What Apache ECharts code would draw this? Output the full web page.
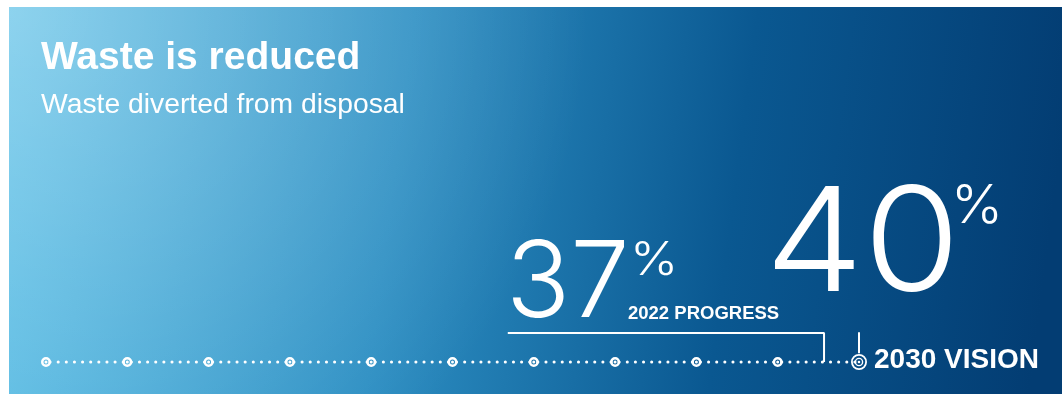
<!DOCTYPE html>
<html>
<head>
<meta charset="utf-8">
<script src="https://cdn.jsdelivr.net/npm/echarts@6/dist/echarts.min.js"></script>
<style>
  html, body { margin: 0; padding: 0; background: #fff; }
  #chart { width: 1062px; height: 394px; }
</style>
</head>
<body>
<div id="chart"></div>
<script>
// timeline milestones (evenly spaced steps), last one is the vision point
const milestones = [0, 1, 2, 3, 4, 5, 6, 7, 8, 9]
const visionStep = 10
// span of the progress bracket, in timeline steps
const progressSpan = [5.68, 9.57]

const progressValue = 37
const visionValue = 40
const progressLabel = '2022 PROGRESS'
const visionLabel = '2030 VISION'
const title = 'Waste is reduced'
const subtitle = 'Waste diverted from disposal'

const chart = echarts.init(document.getElementById('chart'))

// grid geometry, used for the dotted line pattern
const gridLeft = 46
const gridRight = 203
const stepPx = (1062 - gridLeft - gridRight) / visionStep

// white disc with a thin ring cut out
const dotPath = 'path://M0,-5A5,5 0 1,1 0,5A5,5 0 1,1 0,-5Z' +
  'M0,-2.5A2.5,2.5 0 1,0 0,2.5A2.5,2.5 0 1,0 0,-2.5Z' +
  'M0,-1.5A1.5,1.5 0 1,1 0,1.5A1.5,1.5 0 1,1 0,-1.5Z'
// concentric rings for the vision marker
const targetPath = 'path://M0,-8A8,8 0 1,1 0,8A8,8 0 1,1 0,-8Z' +
  'M0,-6.2A6.2,6.2 0 1,0 0,6.2A6.2,6.2 0 1,0 0,-6.2Z' +
  'M0,-4.3A4.3,4.3 0 1,1 0,4.3A4.3,4.3 0 1,1 0,-4.3Z' +
  'M0,-2.9A2.9,2.9 0 1,0 0,2.9A2.9,2.9 0 1,0 0,-2.9Z' +
  'M0,-1.3A1.3,1.3 0 1,1 0,1.3A1.3,1.3 0 1,1 0,-1.3Z'

const bg = {
  type: 'rect',
  left: 9,
  top: 7,
  z: 0,
  silent: true,
  shape: { width: 1053, height: 387 },
  style: {
    fill: new echarts.graphic.LinearGradient(0, 0, 1, 0.35, [
      { offset: 0, color: '#58bee6' },
      { offset: 0.38, color: '#2d8fc3' },
      { offset: 0.7, color: '#0a5891' },
      { offset: 1, color: '#033d73' },
    ]),
  },
}
const glow = {
  type: 'rect',
  left: 9,
  top: 7,
  z: 1,
  silent: true,
  shape: { width: 1053, height: 387 },
  style: {
    fill: new echarts.graphic.RadialGradient(0, 0, 1.5, [
      { offset: 0, color: 'rgba(255,255,255,0.32)' },
      { offset: 1, color: 'rgba(255,255,255,0)' },
    ]),
  },
}

function txt(text, x, y, size, weight, family, scaleX) {
  return {
    type: 'text',
    z: 100,
    silent: true,
    x: x,
    y: y,
    scaleX: scaleX || 1,
    style: {
      text: text,
      fill: '#fff',
      font: weight + ' ' + size + 'px ' + family,
      verticalAlign: 'middle',
      align: 'left',
    },
  }
}

const sans = '"Liberation Sans", Arial, sans-serif'
const thin = 'Inter, Roboto, "Liberation Sans", sans-serif'

chart.setOption({
  animation: false,
  graphic: [
    bg,
    glow,
    txt(title, 41, 58.5, 39, 'bold', sans),
    txt(subtitle, 41, 105.5, 28.3, 'normal', sans),
    txt(String(progressValue), 506, 285, 106, 300, thin),
    txt('%', 630, 261, 46, 300, thin, 1.12),
    txt(progressLabel, 628, 313.6, 18.5, 'bold', sans),
    txt(String(visionValue), 765, 247, 145, 300, thin, 1.08),
    txt('%', 951, 207, 53, 300, thin, 1.05),
    txt(visionLabel, 874, 360.5, 28, 'bold', sans),
  ],
  grid: { left: gridLeft, right: gridRight, top: 333, bottom: 32 },
  xAxis: { type: 'value', min: 0, max: visionStep, show: false },
  yAxis: { type: 'value', min: 0, max: 1, show: false },
  series: [
    {
      type: 'line',
      data: milestones.concat([visionStep]).map(s => [s, 0]),
      symbol: 'none',
      clip: false,
      z: 3,
      lineStyle: {
        color: '#fff',
        width: 3,
        cap: 'round',
        type: [0.1, stepPx / 10 - 0.1],
        dashOffset: stepPx / 10 - 4,
      },
    },
    {
      type: 'line',
      data: [[progressSpan[0], 1], [progressSpan[1], 1], [progressSpan[1], 0]],
      symbol: 'none',
      clip: false,
      z: 3,
      lineStyle: { color: '#fff', width: 2 },
    },
    {
      type: 'line',
      data: [[visionStep, 1.03], [visionStep, 0.3]],
      symbol: 'none',
      clip: false,
      z: 3,
      lineStyle: { color: '#fff', width: 2 },
    },
    {
      type: 'scatter',
      data: milestones.map(s => [s, 0]),
      symbol: dotPath,
      symbolSize: 10,
      clip: false,
      z: 4,
      itemStyle: { color: '#fff', opacity: 1 },
    },
    {
      type: 'scatter',
      data: [[visionStep, 0]],
      symbol: targetPath,
      symbolSize: 16,
      clip: false,
      z: 4,
      itemStyle: { color: '#fff', opacity: 1 },
    },
  ],
})
</script>
</body>
</html>
